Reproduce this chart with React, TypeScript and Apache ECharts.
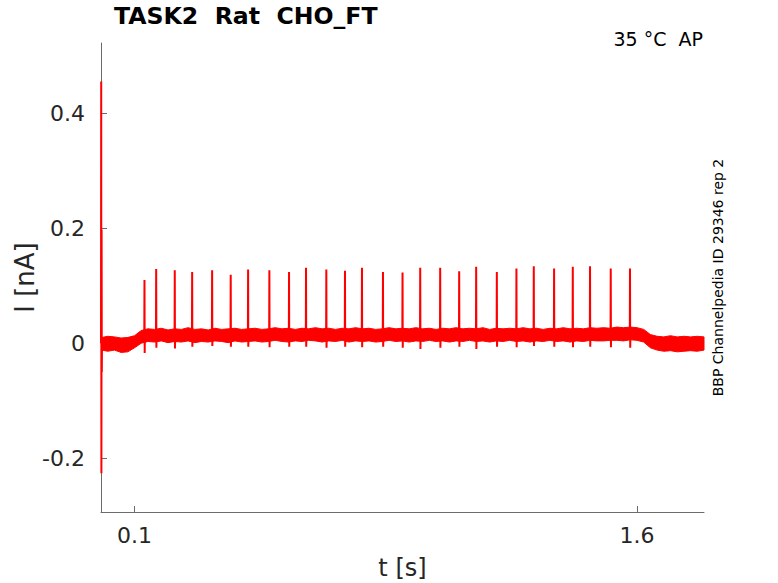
import { useEffect, useRef } from "react";
import * as echarts from "echarts";

// Action-potential spikes: time [s], peak [nA], undershoot [nA]
const spikeTimes = [
  0.1298, 0.1647, 0.2202, 0.2721, 0.3317, 0.3872, 0.4391, 0.5026, 0.5613,
  0.612, 0.6726, 0.7283, 0.779, 0.8417, 0.9001, 0.9529, 1.0125, 1.0692,
  1.1199, 1.1816, 1.2401, 1.2919, 1.3525, 1.4083, 1.4598, 1.5216, 1.5791,
];
const spikePeaks = [
  0.11, 0.129, 0.127, 0.124, 0.127, 0.119, 0.128, 0.127, 0.124, 0.131, 0.128,
  0.126, 0.131, 0.124, 0.123, 0.131, 0.131, 0.125, 0.133, 0.124, 0.13, 0.134,
  0.13, 0.133, 0.134, 0.13, 0.13,
];
const spikeTroughs = [
  -0.017, -0.008, -0.009, -0.006, -0.005, -0.006, -0.006, -0.007, -0.006,
  -0.006, -0.008, -0.006, -0.007, -0.006, -0.008, -0.01, -0.008, -0.006,
  -0.01, -0.006, -0.007, -0.005, -0.006, -0.007, -0.006, -0.007, -0.008,
];
const spikeBase = 0.013;

// Initial capacitive transient
const transientTimes = [0, 0.0006, 0.0012, 0.0018, 0.0024, 0.003];
const transientValues = [0, 0.455, -0.226, 0.197, -0.05, 0];
const traceEnd = [1.8, 0];

// Noise band envelope
const bandTimes = [
  0.003, 0.02, 0.04, 0.06, 0.08, 0.1, 0.12, 0.14, 0.16, 0.18, 0.2, 0.22, 0.24,
  0.26, 0.28, 0.3, 0.32, 0.34, 0.36, 0.38, 0.4, 0.42, 0.44, 0.46, 0.48, 0.5,
  0.52, 0.54, 0.56, 0.58, 0.6, 0.62, 0.64, 0.66, 0.68, 0.7, 0.72, 0.74, 0.76,
  0.78, 0.8, 0.82, 0.84, 0.86, 0.88, 0.9, 0.92, 0.94, 0.96, 0.98, 1.0, 1.02,
  1.04, 1.06, 1.08, 1.1, 1.12, 1.14, 1.16, 1.18, 1.2, 1.22, 1.24, 1.26, 1.28,
  1.3, 1.32, 1.34, 1.36, 1.38, 1.4, 1.42, 1.44, 1.46, 1.48, 1.5, 1.52, 1.54,
  1.56, 1.58, 1.6, 1.62, 1.64, 1.66, 1.68, 1.7, 1.72, 1.74, 1.76, 1.78, 1.8,
];
const bandUpper = [
  0.01, 0.012, 0.011, 0.009, 0.01, 0.013, 0.022, 0.025, 0.024, 0.026, 0.023,
  0.025, 0.024, 0.027, 0.024, 0.025, 0.023, 0.026, 0.024, 0.025, 0.026, 0.024,
  0.025, 0.026, 0.024, 0.025, 0.027, 0.025, 0.026, 0.024, 0.026, 0.025, 0.027,
  0.025, 0.026, 0.024, 0.026, 0.025, 0.027, 0.025, 0.026, 0.024, 0.025, 0.027,
  0.025, 0.026, 0.025, 0.027, 0.025, 0.026, 0.024, 0.026, 0.025, 0.027, 0.025,
  0.026, 0.025, 0.027, 0.024, 0.026, 0.025, 0.026, 0.025, 0.027, 0.025, 0.026,
  0.024, 0.026, 0.025, 0.027, 0.025, 0.026, 0.025, 0.027, 0.026, 0.027, 0.026,
  0.028, 0.027, 0.028, 0.027, 0.024, 0.015, 0.012, 0.011, 0.013, 0.011, 0.012,
  0.011, 0.012, 0.011,
];
const bandLower = [
  -0.012, -0.014, -0.012, -0.016, -0.015, -0.008, 0.0, 0.003, 0.002, 0.004,
  0.001, 0.003, 0.002, 0.004, 0.001, 0.003, 0.002, 0.004, 0.003, 0.001, 0.004,
  0.002, 0.003, 0.004, 0.002, 0.003, 0.005, 0.003, 0.002, 0.004, 0.003, 0.005,
  0.004, 0.002, 0.004, 0.003, 0.005, 0.002, 0.004, 0.003, 0.004, 0.002, 0.003,
  0.005, 0.003, 0.004, 0.002, 0.004, 0.003, 0.005, 0.003, 0.004, 0.002, 0.004,
  0.003, 0.005, 0.003, 0.004, 0.002, 0.004, 0.003, 0.005, 0.003, 0.004, 0.002,
  0.004, 0.003, 0.005, 0.003, 0.004, 0.002, 0.004, 0.003, 0.005, 0.004, 0.004,
  0.005, 0.005, 0.004, 0.006, 0.005, 0.002, -0.008, -0.012, -0.014, -0.013,
  -0.015, -0.014, -0.013, -0.014, -0.012,
];

const xTicks = [0.1, 1.6];
const yTicks = [-0.2, 0, 0.2, 0.4];

const titleText = "TASK2  Rat  CHO_FT";
const conditionText = "35 °C  AP";
const sourceText = "BBP Channelpedia ID 29346 rep 2";

const FONT = "DejaVu Sans";
const RED = "#ff0000";
const AXIS = "#6b6b6b";
const LABEL = "#262626";

export default function App() {
  const ref = useRef<HTMLDivElement>(null);

  useEffect(() => {
    document.body.style.margin = "0";
    if (!ref.current) return;
    const chart = echarts.init(ref.current, undefined, { renderer: "svg" });

    const trace: number[][] = transientTimes.map((t, i) => [t, transientValues[i]]);
    spikeTimes.forEach((t, i) => {
      trace.push([t - 0.0006, spikeBase]);
      trace.push([t, spikePeaks[i]]);
      trace.push([t + 0.0006, spikeTroughs[i]]);
      trace.push([t + 0.0012, spikeBase]);
    });
    trace.push(traceEnd);

    const renderBand = (_params: any, api: any) => {
      const upper = bandTimes.map((t, i) => api.coord([t, bandUpper[i]]));
      const lower = bandTimes
        .map((t, i) => api.coord([t, bandLower[i]]))
        .reverse();
      return {
        type: "polygon",
        shape: { points: upper.concat(lower) },
        style: { fill: RED, stroke: RED, lineWidth: 1 },
        silent: true,
      };
    };

    chart.setOption({
      animation: false,
      title: {
        text: titleText,
        left: 114,
        top: 4,
        padding: 0,
        textStyle: { fontFamily: FONT, fontSize: 23.6, fontWeight: "bold", color: "#000" },
      },
      grid: {
        left: 101,
        right: 74,
        top: 43,
        bottom: 71,
        containLabel: false,
        outerBoundsMode: "none",
      },
      xAxis: {
        type: "value",
        min: 0,
        max: 1.8,
        name: "t [s]",
        nameLocation: "middle",
        nameGap: 44,
        nameTextStyle: { fontFamily: FONT, fontSize: 24, color: LABEL },
        axisLine: { show: true, onZero: false, lineStyle: { color: AXIS, width: 1 } },
        axisTick: { show: true, inside: true, length: 6, customValues: xTicks, lineStyle: { color: AXIS } },
        axisLabel: {
          customValues: xTicks,
          margin: 12,
          fontFamily: FONT,
          fontSize: 22,
          color: LABEL,
          formatter: (v: number) => v.toFixed(1),
        },
        splitLine: { show: false },
      },
      yAxis: {
        type: "value",
        min: -0.2935,
        max: 0.522,
        name: "I [nA]",
        nameLocation: "middle",
        nameGap: 63,
        nameMoveOverlap: false,
        nameTextStyle: { fontFamily: FONT, fontSize: 26, color: LABEL },
        axisLine: { show: true, onZero: false, lineStyle: { color: AXIS, width: 1 } },
        axisTick: { show: true, inside: true, length: 6, customValues: yTicks, lineStyle: { color: AXIS } },
        axisLabel: {
          customValues: yTicks,
          margin: 16,
          fontFamily: FONT,
          fontSize: 22,
          color: LABEL,
          formatter: (v: number) => (Math.abs(v) < 1e-9 ? "0" : v.toFixed(1)),
        },
        splitLine: { show: false },
      },
      graphic: [
        {
          type: "text",
          x: 703,
          y: 29,
          style: {
            text: conditionText,
            font: `19px "${FONT}"`,
            fill: "#000",
            align: "right",
            verticalAlign: "top",
          },
        },
        {
          type: "text",
          x: 717.5,
          y: 277.5,
          rotation: Math.PI / 2,
          style: {
            text: sourceText,
            font: `14px "${FONT}"`,
            fill: "#000",
            align: "center",
            verticalAlign: "middle",
          },
        },
      ],
      series: [
        {
          type: "custom",
          name: "band",
          data: [[0, 0]],
          renderItem: renderBand,
          silent: true,
          z: 2,
        },
        {
          type: "line",
          name: "trace",
          data: trace,
          symbol: "none",
          lineStyle: { color: RED, width: 2 },
          silent: true,
          z: 3,
        },
      ],
    });

    return () => chart.dispose();
  }, []);

  return <div ref={ref} style={{ width: 778, height: 583 }} />;
}
